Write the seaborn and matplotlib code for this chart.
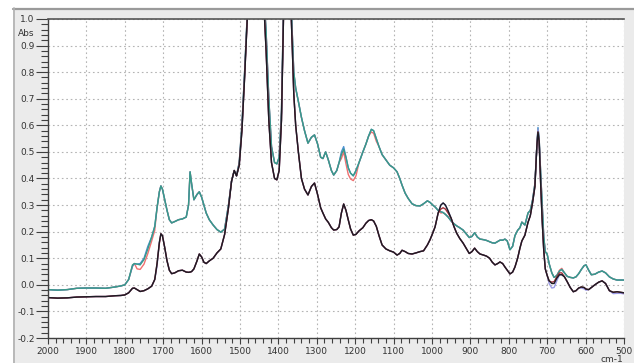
import numpy as np
import pandas as pd
import matplotlib
matplotlib.use("Agg")
import matplotlib.pyplot as plt
from matplotlib.patches import Rectangle
from matplotlib.lines import Line2D
from matplotlib.ticker import MultipleLocator
import seaborn as sns

# ---------------- data ----------------
wavenumber = [2000, 1975, 1950, 1925, 1900, 1875, 1850, 1825, 1810, 1800, 1790, 1780, 1775, 1768, 1760,
              1750, 1740, 1730, 1722, 1716, 1710, 1706, 1702, 1696, 1690, 1684, 1678, 1670, 1660, 1650,
              1640, 1634, 1630, 1626, 1620, 1612, 1606, 1600, 1594, 1588, 1580, 1570, 1560, 1550, 1540,
              1530, 1522, 1515, 1509, 1502, 1495, 1488, 1480, 1470, 1460, 1450, 1440, 1432, 1425, 1418,
              1410, 1404, 1398, 1392, 1388, 1384, 1377, 1370, 1364, 1360, 1355, 1348, 1340, 1332, 1323,
              1314, 1306, 1298, 1290, 1284, 1277, 1270, 1262, 1256, 1248, 1242, 1236, 1230, 1224, 1218,
              1212, 1205, 1198, 1190, 1180, 1172, 1165, 1158, 1152, 1145, 1138, 1130, 1120, 1110, 1100,
              1091, 1084, 1078, 1070, 1062, 1052, 1042, 1031, 1022, 1012, 1005, 998, 992, 984, 977,
              971, 965, 958, 950, 943, 936, 928, 919, 910, 903, 896, 889, 882, 875, 866,
              858, 850, 843, 836, 829, 823, 816, 810, 804, 797, 790, 784, 777, 771, 766,
              758, 750, 744, 738, 732, 727, 724, 721, 717, 713, 709, 705, 700, 695, 688,
              682, 675, 668, 662, 655, 648, 640, 632, 625, 618, 611, 604, 599, 592, 585,
              576, 566, 557, 548, 538, 528, 518, 508, 500]

upper_base = [-0.018, -0.020, -0.018, -0.013, -0.012, -0.012, -0.013, -0.008, -0.004, 0.000, 0.020, 0.070, 0.080, 0.078, 0.080,
              0.100, 0.140, 0.180, 0.220, 0.290, 0.350, 0.372, 0.360, 0.320, 0.280, 0.245, 0.233, 0.238, 0.245, 0.248,
              0.255, 0.300, 0.425, 0.380, 0.320, 0.340, 0.350, 0.330, 0.300, 0.270, 0.245, 0.225, 0.208, 0.198, 0.210,
              0.300, 0.390, 0.430, 0.410, 0.460, 0.600, 0.800, 1.050, 1.400, 1.500, 1.400, 1.150, 0.950, 0.700, 0.520,
              0.460, 0.455, 0.480, 0.650, 0.950, 1.200, 1.400, 1.200, 0.950, 0.800, 0.740, 0.690, 0.630, 0.580, 0.533,
              0.555, 0.564, 0.530, 0.480, 0.475, 0.500, 0.470, 0.430, 0.413, 0.430, 0.460, 0.500, 0.520, 0.480, 0.440,
              0.420, 0.410, 0.430, 0.460, 0.500, 0.530, 0.560, 0.585, 0.580, 0.550, 0.520, 0.490, 0.470, 0.450, 0.440,
              0.425, 0.400, 0.375, 0.345, 0.325, 0.305, 0.298, 0.297, 0.305, 0.316, 0.310, 0.300, 0.293, 0.280, 0.275,
              0.272, 0.265, 0.255, 0.240, 0.230, 0.222, 0.215, 0.206, 0.190, 0.178, 0.182, 0.196, 0.180, 0.172, 0.170,
              0.167, 0.162, 0.158, 0.157, 0.163, 0.168, 0.168, 0.172, 0.165, 0.132, 0.145, 0.185, 0.205, 0.215, 0.236,
              0.225, 0.270, 0.280, 0.320, 0.380, 0.520, 0.585, 0.550, 0.420, 0.300, 0.180, 0.125, 0.115, 0.080, 0.045,
              0.028, 0.035, 0.052, 0.058, 0.045, 0.032, 0.028, 0.026, 0.030, 0.042, 0.058, 0.072, 0.075, 0.055, 0.038,
              0.040, 0.048, 0.052, 0.045, 0.030, 0.022, 0.018, 0.018, 0.018]

lower_base = [-0.048, -0.050, -0.049, -0.046, -0.045, -0.044, -0.044, -0.041, -0.040, -0.038, -0.030, -0.013, -0.012, -0.018, -0.025,
              -0.022, -0.015, -0.005, 0.020, 0.080, 0.160, 0.192, 0.185, 0.140, 0.090, 0.055, 0.042, 0.045, 0.053, 0.055,
              0.048, 0.047, 0.048, 0.050, 0.060, 0.090, 0.116, 0.105, 0.085, 0.080, 0.090, 0.100, 0.120, 0.135, 0.190,
              0.290, 0.390, 0.430, 0.410, 0.450, 0.580, 0.780, 1.030, 1.400, 1.500, 1.400, 1.120, 0.880, 0.620, 0.460,
              0.400, 0.395, 0.430, 0.620, 0.920, 1.200, 1.400, 1.150, 0.900, 0.720, 0.600, 0.500, 0.400, 0.360, 0.338,
              0.370, 0.383, 0.340, 0.290, 0.270, 0.248, 0.235, 0.215, 0.206, 0.208, 0.218, 0.270, 0.304, 0.280, 0.244,
              0.210, 0.187, 0.190, 0.203, 0.215, 0.232, 0.242, 0.245, 0.240, 0.220, 0.185, 0.150, 0.135, 0.128, 0.123,
              0.112, 0.118, 0.130, 0.125, 0.118, 0.116, 0.120, 0.125, 0.128, 0.150, 0.170, 0.195, 0.218, 0.270, 0.300,
              0.308, 0.300, 0.278, 0.250, 0.220, 0.195, 0.175, 0.157, 0.135, 0.118, 0.125, 0.138, 0.125, 0.116, 0.112,
              0.108, 0.100, 0.085, 0.075, 0.080, 0.086, 0.080, 0.067, 0.055, 0.041, 0.048, 0.067, 0.100, 0.138, 0.165,
              0.187, 0.235, 0.260, 0.310, 0.370, 0.520, 0.575, 0.540, 0.380, 0.240, 0.130, 0.060, 0.035, 0.015, 0.005,
              0.005, 0.025, 0.038, 0.038, 0.030, 0.012, -0.010, -0.026, -0.022, -0.012, -0.008, -0.010, -0.016, -0.018, -0.010,
              0.000, 0.010, 0.015, 0.005, -0.022, -0.028, -0.026, -0.028, -0.030]

# values where an individual spectrum departs from its group
upper_red_changes = {1768: 0.060, 1760: 0.058, 1750: 0.078, 1740: 0.118, 1730: 0.165, 1722: 0.205,
                     1236: 0.475, 1230: 0.500, 1224: 0.455, 1218: 0.415, 1212: 0.398, 1205: 0.392,
                     1198: 0.410, 1158: 0.575, 1152: 0.570, 1145: 0.540, 977: 0.270, 668: 0.055, 662: 0.062}
upper_green_changes = {1780: 0.075, 1760: 0.075, 1750: 0.095, 1740: 0.135, 1236: 0.490, 1230: 0.510}
upper_blue_changes = {724: 0.592, 1740: 0.145}
lower_black_changes = {}
lower_red_changes = {977: 0.285, 971: 0.290, 965: 0.285, 958: 0.270, 1710: 0.155, 688: 0.010,
                     682: 0.012, 675: 0.030, 668: 0.045, 662: 0.045}
lower_lavender_changes = {724: 0.585, 695: 0.005, 688: -0.012, 682: -0.010, 675: 0.015, 611: -0.012,
                          604: -0.015, 599: -0.020, 528: -0.033, 518: -0.032, 508: -0.032, 500: -0.034,
                          1716: 0.070}

spectra = [  # (name, group values, changes, colour)
    ("upper red", upper_base, upper_red_changes, "#f07070"),
    ("upper blue", upper_base, upper_blue_changes, "#4a8fd0"),
    ("upper green", upper_base, upper_green_changes, "#3a9a88"),
    ("lower lavender", lower_base, lower_lavender_changes, "#9a9ae6"),
    ("lower red", lower_base, lower_red_changes, "#a0303c"),
    ("lower black", lower_base, lower_black_changes, "#1c1c24"),
]

x_major = [2000, 1900, 1800, 1700, 1600, 1500, 1400, 1300, 1200, 1100, 1000, 900, 800, 700, 600, 500]
y_major = [-0.2, -0.1, 0.0, 0.1, 0.2, 0.3, 0.4, 0.5, 0.6, 0.7, 0.8, 0.9, 1.0]

# ---------------- figure ----------------
sns.set_theme(style="white")
plt.rcParams['font.family'] = ['DejaVu Sans']

W, H = 634, 363
fig = plt.figure(figsize=(W / 100, H / 100), dpi=100, facecolor="white")

# grey instrument-window panel (drawn behind the axes)
fig.patches.append(Rectangle((13 / W, 0), 1 - 13 / W, 1 - 8 / H, transform=fig.transFigure,
                             facecolor="#ebebeb", edgecolor="none", zorder=-10))
fig.lines.append(Line2D([13 / W, 1], [1 - 8.5 / H, 1 - 8.5 / H], transform=fig.transFigure,
                        color="#9a9a9a", lw=1.6, zorder=-9))
fig.lines.append(Line2D([13.5 / W, 13.5 / W], [0, 1 - 8 / H], transform=fig.transFigure,
                        color="#b0b0b0", lw=1.2, zorder=-9))

ax = fig.add_axes([48 / W, 1 - 338 / H, (624 - 48) / W, (338 - 19) / H])
ax.set_zorder(1)
ax.set_facecolor("white")

for name, base, changes, colour in spectra:
    vals = [changes.get(w, v) for w, v in zip(wavenumber, base)]
    df = pd.DataFrame({"wn": wavenumber, "abs": vals})
    sns.lineplot(data=df, x="wn", y="abs", ax=ax, color=colour, lw=1.0,
                 estimator=None, sort=False)

ax.set_xlim(2000, 500)
ax.set_ylim(-0.2, 1.0)
ax.set_xticks(x_major)
ax.set_xticklabels([str(v) for v in x_major])
ax.set_yticks(y_major)
ax.set_yticklabels([f"{v:.1f}" for v in y_major])
ax.xaxis.set_minor_locator(MultipleLocator(20))
ax.yaxis.set_minor_locator(MultipleLocator(0.02))
ax.set_xlabel("")
ax.set_ylabel("")

ax.grid(True, which="major", color="#b4b4b4", linestyle=(0, (1.5, 2.5)), lw=0.8)
ax.set_axisbelow(True)

for s in ("left", "bottom"):
    ax.spines[s].set_color("#404040")
    ax.spines[s].set_linewidth(1.0)
ax.spines["right"].set_visible(False)
ax.spines["top"].set_color("#555555")
ax.spines["top"].set_linestyle((0, (3, 1)))
ax.spines["top"].set_linewidth(1.2)

ax.tick_params(axis="y", which="major", direction="out", length=8.5, width=0.8, color="#404040",
               labelsize=6.5, labelcolor="#333333", pad=1, left=True)
ax.tick_params(axis="y", which="minor", direction="out", length=5, width=0.8, color="#404040", left=True)
ax.tick_params(axis="x", which="major", direction="out", length=4.5, width=0.8, color="#404040",
               labelsize=6.5, labelcolor="#333333", pad=2, bottom=True)
ax.tick_params(axis="x", which="minor", direction="out", length=3.5, width=0.8, color="#404040", bottom=True)

# unit labels
fig.text(34 / W, 1 - 33 / H, "Abs", ha="right", va="center", fontsize=6.5, color="#333333")
fig.text(623 / W, 1 - 360 / H, "cm-1", ha="right", va="center", fontsize=6.5, color="#333333")

fig.savefig("out.png", dpi=100, facecolor="white")
